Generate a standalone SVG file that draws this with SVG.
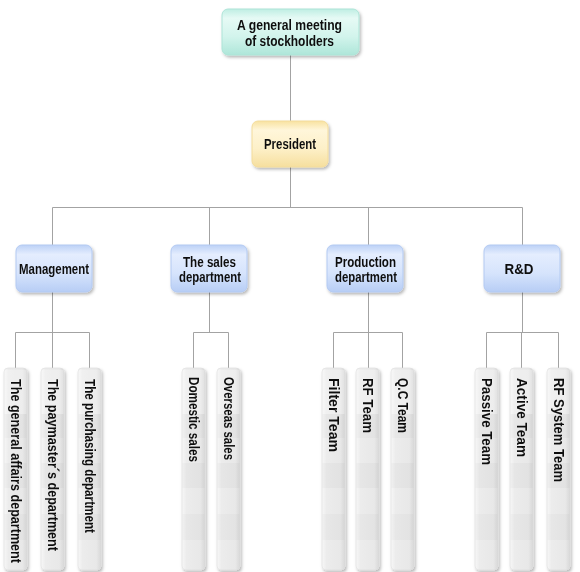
<svg xmlns="http://www.w3.org/2000/svg" width="580" height="572" viewBox="0 0 580 572">
<defs>
<filter id="sh" x="-20%" y="-20%" width="150%" height="150%">
<feDropShadow dx="1.5" dy="2" stdDeviation="1.6" flood-color="#000" flood-opacity="0.28"/>
</filter>
<linearGradient id="gTeal" x1="0" y1="0" x2="0" y2="1">
<stop offset="0" stop-color="#bfeee3"/>
<stop offset="0.2" stop-color="#e6faf5"/>
<stop offset="0.6" stop-color="#d2f4ec"/>
<stop offset="1" stop-color="#aee6d9"/>
</linearGradient>
<linearGradient id="gYel" x1="0" y1="0" x2="0" y2="1">
<stop offset="0" stop-color="#f8e2a0"/>
<stop offset="0.2" stop-color="#fff6da"/>
<stop offset="0.6" stop-color="#fdf0c8"/>
<stop offset="1" stop-color="#f6df9e"/>
</linearGradient>
<linearGradient id="gBlue" x1="0" y1="0" x2="0" y2="1">
<stop offset="0" stop-color="#bcd1f6"/>
<stop offset="0.2" stop-color="#e4edfe"/>
<stop offset="0.6" stop-color="#d6e4fc"/>
<stop offset="1" stop-color="#b7cdf5"/>
</linearGradient>
<linearGradient id="gLeaf" x1="0" y1="0" x2="1" y2="0">
<stop offset="0" stop-color="#f7f7f7"/>
<stop offset="0.2" stop-color="#ececec"/>
<stop offset="0.8" stop-color="#e8e8e8"/>
<stop offset="1" stop-color="#d8d8d8"/>
</linearGradient>
<g id="leafBar">
<rect x="0" y="0" width="23" height="202" rx="4" fill="url(#gLeaf)" stroke="#dcdcdc" stroke-width="0.6"/>
<rect x="0.5" y="46" width="22" height="24" fill="#000" opacity="0.018"/>
<rect x="0.5" y="95" width="22" height="25" fill="#000" opacity="0.022"/>
<rect x="0.5" y="146" width="22" height="26" fill="#000" opacity="0.018"/>
<rect x="0.5" y="2" width="22" height="44" fill="#fff" opacity="0.22"/>
</g>
</defs>
<style>
.c{stroke:#a3a3a3;stroke-width:1;fill:none}
.t{font-family:"Liberation Sans",Arial,sans-serif;font-weight:bold;fill:#111}
.n{font-size:15px}
.m{font-size:14px}
.l{font-size:14px}
.box{filter:url(#sh)}
</style>

<g id="connectors">
<path class="c" d="M290.5 55V121M290.5 167V207.5M52.5 207.5H522.5M52.5 207.5V245M209.5 207.5V245M368.5 207.5V245M522.5 207.5V245"/>
<path class="c" d="M52.5 292V332.5M15.5 332.5H89.5M15.5 332.5V368M52.5 332.5V368M89.5 332.5V368"/>
<path class="c" d="M209.5 292V332.5M193.5 332.5H228.5M193.5 332.5V368M228.5 332.5V368"/>
<path class="c" d="M368.5 292V332.5M333.5 332.5H402.5M333.5 332.5V368M368.5 332.5V368M402.5 332.5V368"/>
<path class="c" d="M522.5 292V332.5M486.5 332.5H558.5M486.5 332.5V368M521.5 332.5V368M558.5 332.5V368"/>
</g>

<g id="n-meeting" class="box">
<rect x="222" y="9" width="137" height="46" rx="6" fill="url(#gTeal)" stroke="#ade4d7" stroke-width="1"/>
<text class="t m" x="289.5" y="29.5" text-anchor="middle" textLength="105" lengthAdjust="spacingAndGlyphs">A general meeting</text>
<text class="t m" x="289.5" y="45.5" text-anchor="middle" textLength="89" lengthAdjust="spacingAndGlyphs">of stockholders</text>
</g>

<g id="n-president" class="box">
<rect x="252" y="121" width="76" height="46" rx="6" fill="url(#gYel)" stroke="#f3dc9c" stroke-width="1"/>
<text class="t n" x="290" y="148.5" text-anchor="middle" textLength="52" lengthAdjust="spacingAndGlyphs">President</text>
</g>

<g id="n-management" class="box">
<rect x="16" y="245" width="76" height="47" rx="6" fill="url(#gBlue)" stroke="#b3caf2" stroke-width="1"/>
<text class="t n" x="54" y="273.5" text-anchor="middle" textLength="70" lengthAdjust="spacingAndGlyphs">Management</text>
</g>

<g id="n-sales" class="box">
<rect x="171" y="245" width="76" height="47" rx="6" fill="url(#gBlue)" stroke="#b3caf2" stroke-width="1"/>
<text class="t n" x="209.5" y="266.5" text-anchor="middle" textLength="53" lengthAdjust="spacingAndGlyphs">The sales</text>
<text class="t n" x="210" y="282" text-anchor="middle" textLength="62" lengthAdjust="spacingAndGlyphs">department</text>
</g>

<g id="n-production" class="box">
<rect x="327" y="245" width="76" height="47" rx="6" fill="url(#gBlue)" stroke="#b3caf2" stroke-width="1"/>
<text class="t n" x="365.5" y="266.5" text-anchor="middle" textLength="61" lengthAdjust="spacingAndGlyphs">Production</text>
<text class="t n" x="366" y="282" text-anchor="middle" textLength="62" lengthAdjust="spacingAndGlyphs">department</text>
</g>

<g id="n-rd" class="box">
<rect x="484" y="245" width="76" height="47" rx="6" fill="url(#gBlue)" stroke="#b3caf2" stroke-width="1"/>
<text class="t n" x="519" y="273.5" text-anchor="middle" textLength="29" lengthAdjust="spacingAndGlyphs">R&amp;D</text>
</g>

<g id="n-general-affairs" class="box">
<use href="#leafBar" x="4" y="368"/>
<text class="t l" transform="translate(10.5,379) rotate(90)" textLength="184" lengthAdjust="spacingAndGlyphs">The general affairs department</text>
</g>
<g id="n-paymaster" class="box">
<use href="#leafBar" x="41" y="368"/>
<text class="t l" transform="translate(47.5,379) rotate(90)" textLength="172" lengthAdjust="spacingAndGlyphs">The paymaster´s department</text>
</g>
<g id="n-purchasing" class="box">
<use href="#leafBar" x="78" y="368"/>
<text class="t l" transform="translate(84.5,379) rotate(90)" textLength="154" lengthAdjust="spacingAndGlyphs">The purchasing department</text>
</g>

<g id="n-domestic" class="box">
<use href="#leafBar" x="182" y="368"/>
<text class="t l" transform="translate(188.5,377) rotate(90)" textLength="85" lengthAdjust="spacingAndGlyphs">Domestic sales</text>
</g>
<g id="n-overseas" class="box">
<use href="#leafBar" x="217" y="368"/>
<text class="t l" transform="translate(223.5,377) rotate(90)" textLength="83" lengthAdjust="spacingAndGlyphs">Overseas sales</text>
</g>

<g id="n-filter" class="box">
<use href="#leafBar" x="322" y="368"/>
<text class="t l" transform="translate(328.5,378) rotate(90)" textLength="74" lengthAdjust="spacingAndGlyphs">Filter Team</text>
</g>
<g id="n-rf" class="box">
<use href="#leafBar" x="356" y="368"/>
<text class="t l" transform="translate(362.5,378) rotate(90)" textLength="55" lengthAdjust="spacingAndGlyphs">RF Team</text>
</g>
<g id="n-qc" class="box">
<use href="#leafBar" x="391" y="368"/>
<text class="t l" transform="translate(397.5,378) rotate(90)" textLength="55" lengthAdjust="spacingAndGlyphs">Q.C Team</text>
</g>

<g id="n-passive" class="box">
<use href="#leafBar" x="475" y="368"/>
<text class="t l" transform="translate(481.5,378) rotate(90)" textLength="87" lengthAdjust="spacingAndGlyphs">Passive Team</text>
</g>
<g id="n-active" class="box">
<use href="#leafBar" x="510" y="368"/>
<text class="t l" transform="translate(516.5,378) rotate(90)" textLength="79" lengthAdjust="spacingAndGlyphs">Active Team</text>
</g>
<g id="n-rfsystem" class="box">
<use href="#leafBar" x="547" y="368"/>
<text class="t l" transform="translate(553.5,378) rotate(90)" textLength="104" lengthAdjust="spacingAndGlyphs">RF System Team</text>
</g>
</svg>
